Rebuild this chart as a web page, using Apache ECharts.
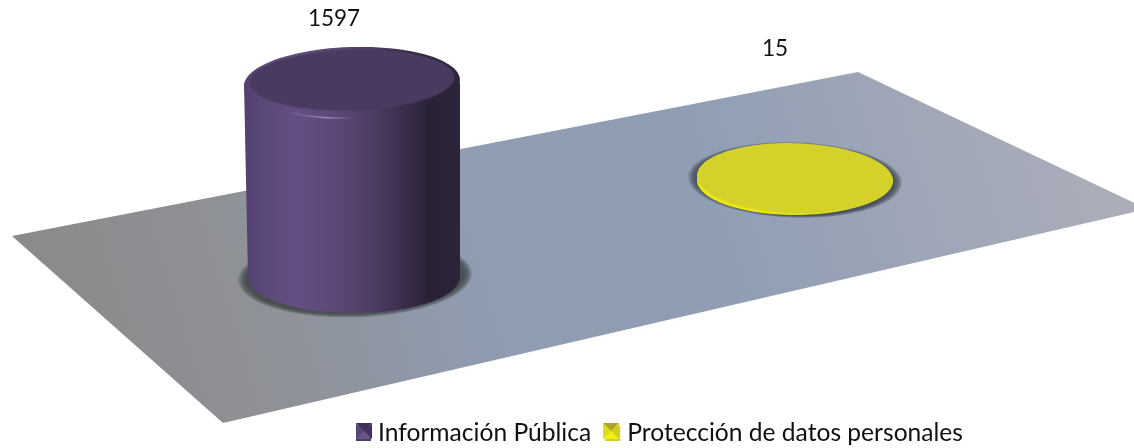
<!DOCTYPE html>
<html>
<head>
<meta charset="utf-8">
<style>html,body{margin:0;padding:0;background:#fff}#c{width:1134px;height:448px}</style>
<script src="https://cdn.jsdelivr.net/npm/echarts@6/dist/echarts.min.js"></script>
</head>
<body>
<div id="c"></div>
<script>
const categories = ['Información Pública', 'Protección de datos personales'];
const informacionPublica = [1597];
const proteccionDatos = [15];

const FONT = 'Lato, "Open Sans", sans-serif';
const PURPLE_SIDE = [[0,'#52406f'],[0.1,'#5c497b'],[0.25,'#644f84'],[0.45,'#5a4674'],[0.62,'#4a3a5f'],[0.75,'#392c4a'],[0.86,'#2a2136'],[1,'#2c2439']];
const YELLOW_SIDE = [[0,'#e8e614'],[1,'#e4e210']];
const look = [
  {rx:108, ry:36, tilt:0.03, dy:0, sideBy:4, side:PURPLE_SIDE, cap:'#4b3a5f', labelDx:-18, labelY:19, halo:'rgba(60,65,68,0.17)', haloX:3, haloY:0.5},
  {rx:98, ry:35, tilt:-0.03, dy:-97, sideBy:0, side:YELLOW_SIDE, cap:'#d4d22a', labelDx:-20, labelY:49, halo:'rgba(62,68,80,0.17)', haloX:0, haloY:0.3}
];

function ell(cx, cy, rx, ry, tilt, a0, a1, n) {
  const pts = [], c = Math.cos(tilt), s = Math.sin(tilt);
  for (let i = 0; i <= n; i++) {
    const t = a0 + (a1 - a0) * i / n, x = rx * Math.cos(t), y = ry * Math.sin(t);
    pts.push([cx + x * c + y * s, cy - x * s + y * c]);
  }
  return pts;
}
const hgrad = stops => ({type:'linear', x:0, y:0, x2:1, y2:0, colorStops:stops.map(s => ({offset:s[0], color:s[1]}))});

function renderCylinder(params, api) {
  const idx = api.value(0), val = api.value(1), L = look[idx];
  const base = api.coord([idx, 0]), top = api.coord([idx, val]);
  const cx = base[0], by = base[1] + L.dy, ty = top[1] + L.dy, h = by - ty;
  const tall = h > 20;
  const fill = hgrad(L.side);
  const kids = [];
  for (let k = 9; k >= 1; k--) {
    kids.push({type:'polygon', silent:true, shape:{points:ell(cx + L.haloX, by, L.rx + k, L.ry + k * L.haloY, L.tilt, 0, Math.PI * 2, 96)},
      style:{fill:L.halo}});
  }
  const bodyPts = [[cx - L.rx, ty]]
    .concat(ell(cx + L.sideBy / 2, by, L.rx - L.sideBy / 2, L.ry, 0, Math.PI, 0, 64))
    .concat([[cx + L.rx, ty]]);
  kids.push({type:'polygon', silent:true, shape:{points:bodyPts}, style:{fill:fill}});
  kids.push({type:'polygon', silent:true, shape:{points:ell(cx, ty, L.rx, L.ry, L.tilt, 0, Math.PI * 2, 96)}, style:{fill:tall ? fill : L.cap}});
  if (tall) {
    kids.push({type:'polygon', silent:true, shape:{points:ell(cx, ty - 3, L.rx - 6, L.ry - 6, L.tilt, 0, Math.PI * 2, 96)},
      style:{fill:L.cap, shadowBlur:3, shadowColor:L.cap}});
    kids.push({type:'polyline', silent:true, shape:{points:ell(cx, ty - 1, L.rx - 3, L.ry, L.tilt, Math.PI * 0.5, Math.PI * 0.72, 24)},
      style:{stroke:{type:'linear', x:0, y:0, x2:1, y2:0, colorStops:[
        {offset:0, color:'rgba(150,132,182,0)'},{offset:0.6, color:'rgba(165,148,195,0.85)'},{offset:1, color:'rgba(150,132,182,0)'}]},
        lineWidth:1.6, fill:'none'}});
  }
  kids.push({type:'text', silent:true, style:{text:String(val), x:cx + L.labelDx, y:L.labelY, textAlign:'center', textVerticalAlign:'middle',
    fontFamily:FONT, fontSize:22.5, fill:'#111'}});
  return {type:'group', children:kids};
}

function pyramid(x, y, c) {
  const s = 16, m = s / 2;
  const tri = (p, f) => ({type:'polygon', z:10, silent:true, shape:{points:p.map(q => [x + q[0], y + q[1]])}, style:{fill:f}});
  return [
    tri([[0,0],[s,0],[m,m]], c[0]),
    tri([[0,0],[0,s],[m,m]], c[1]),
    tri([[s,0],[s,s],[m,m]], c[2]),
    tri([[0,s],[s,s],[m,m]], c[3])
  ];
}

const chart = echarts.init(document.getElementById('c'), null, {renderer:'canvas'});
chart.setOption({
  animation:false,
  backgroundColor:'#ffffff',
  grid:{left:130.5, width:886, top:83, height:194},
  xAxis:{type:'category', data:categories, show:false},
  yAxis:{type:'value', min:0, max:1597, show:false},
  legend:{
    left:351, top:416, icon:'rect', itemWidth:15, itemHeight:15, itemGap:14,
    selectedMode:false,
    textStyle:{fontFamily:FONT, fontSize:24.6, color:'#111', padding:[0,0,0,2]},
    data:categories
  },
  tooltip:{show:false},
  series:[
    {type:'custom', name:categories[0], coordinateSystem:'cartesian2d', renderItem:renderCylinder, clip:false, z:3,
      itemStyle:{color:'#4f3d6c'}, encode:{x:0,y:1}, data:informacionPublica.map(v => [0, v])},
    {type:'custom', name:categories[1], coordinateSystem:'cartesian2d', renderItem:renderCylinder, clip:false, z:3,
      itemStyle:{color:'#d4d22a'}, encode:{x:0,y:1}, data:proteccionDatos.map(v => [1, v])}
  ],
  graphic:[
    {type:'polygon', z:0, silent:true, shape:{points:[[12,236],[858,72],[1147,209],[223,423]]},
      style:{fill:{type:'linear', x:0, y:1, x2:1, y2:0, colorStops:[
        {offset:0, color:'#888888'},{offset:0.2, color:'#8e9094'},{offset:0.42, color:'#8f9cb2'},{offset:0.62, color:'#909eb4'},{offset:0.85, color:'#a4a9b8'},{offset:1, color:'#aeb0ba'}]}}}
  ].concat(pyramid(356, 423, ['#3d2f55','#5a477a','#42335c','#6a5588']))
   .concat(pyramid(603, 423, ['#a9a624','#dedc20','#d0ce1e','#f2f010']))
});
</script>
</body>
</html>
